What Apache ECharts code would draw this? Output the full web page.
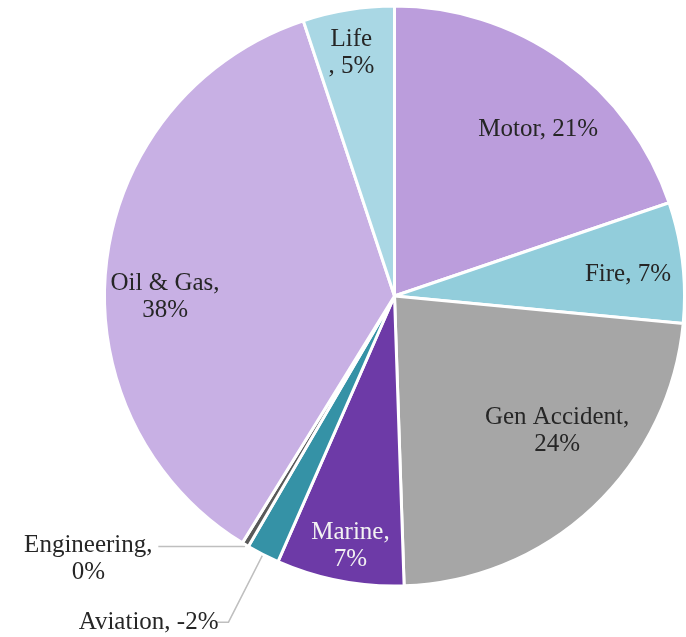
<!DOCTYPE html>
<html>
<head>
<meta charset="utf-8">
<script src="https://cdn.jsdelivr.net/npm/echarts@6/dist/echarts.min.js"></script>
<style>
  html, body { margin: 0; padding: 0; background: #fff; }
  #chart { width: 686px; height: 637px; }
</style>
</head>
<body>
<div id="chart"></div>
<script>
// Lines of business, clockwise from 12 o'clock
const categories = ['Motor', 'Fire', 'Gen Accident', 'Marine', 'Aviation', 'Engineering', 'Oil & Gas', 'Life'];
// Share of total (%), signed as labelled; slices are drawn from the absolute value
const shares = [20.6, 7.0, 23.9, 7.4, -1.9, 0.4, 37.6, 5.3];
const colors = ['#bb9ddc', '#92cddb', '#a6a6a6', '#6d3aa7', '#3592a6', '#595959', '#c8b0e4', '#a9d7e4'];

// label layout only
const labelSep = [', ', ', ', ',\n', ',\n', ', ', ',\n', ',\n', '\n, '];
const outside = ['Aviation', 'Engineering'];
const insideOffset = {
  'Motor': [8, 23], 'Fire': [2, 5], 'Gen Accident': [3, -35],
  'Marine': [0, 21], 'Oil & Gas': [2, 28], 'Life': [-6, -13]
};

const FONT = '"Liberation Serif", "DejaVu Serif", serif';
const labelText = i => categories[i] + labelSep[i] + Math.round(shares[i]) + '%';

const chart = echarts.init(document.getElementById('chart'), null, { renderer: 'canvas' });

const mainData = categories.map((name, i) => {
  const isOut = outside.includes(name);
  const isAv = name === 'Aviation';
  return {
    name,
    value: Math.abs(shares[i]),
    itemStyle: { color: colors[i] },
    label: isOut ? {
      show: true,
      position: 'outside',
      offset: isAv ? [7, 0] : [1, 13],
      formatter: () => isAv ? labelText(i) : labelText(i).split('\n').map(s => '{c|' + s + '}').join('\n')
    } : { show: false },
    labelLine: { show: isOut, length: isAv ? 76 : 2, length2: isAv ? 13 : 86 }
  };
});

const ghostData = categories.map((name, i) => ({
  name,
  value: Math.abs(shares[i]),
  label: outside.includes(name) ? { show: false } : {
    show: true,
    offset: insideOffset[name] || [0, 0],
    color: name === 'Marine' ? '#f2f2f2' : '#262626'
  }
}));

chart.setOption({
  animation: false,
  series: [
    {
      type: 'pie',
      center: [394.5, 296],
      radius: [0, 290],
      startAngle: 90,
      clockwise: true,
      avoidLabelOverlap: false,
      silent: true,
      itemStyle: { borderColor: '#ffffff', borderWidth: 3 },
      label: {
        fontFamily: FONT, fontSize: 25, color: '#262626', distanceToLabelLine: 4,
        rich: { c: { fontFamily: FONT, fontSize: 25, color: '#262626', width: 134, align: 'center', lineHeight: 27 } }
      },
      labelLine: { lineStyle: { color: '#bfbfbf', width: 1.5 }, smooth: false },
      emphasis: { disabled: true },
      data: mainData
    },
    {
      type: 'pie',
      center: [394.5, 296],
      radius: [170, 290],
      startAngle: 90,
      clockwise: true,
      silent: true,
      avoidLabelOverlap: false,
      itemStyle: { color: 'rgba(0,0,0,0)', borderWidth: 0 },
      label: { position: 'inside', fontFamily: FONT, fontSize: 25, lineHeight: 27, color: '#262626', formatter: p => labelText(p.dataIndex) },
      labelLine: { show: false },
      emphasis: { disabled: true },
      data: ghostData
    }
  ]
});
</script>
</body>
</html>
